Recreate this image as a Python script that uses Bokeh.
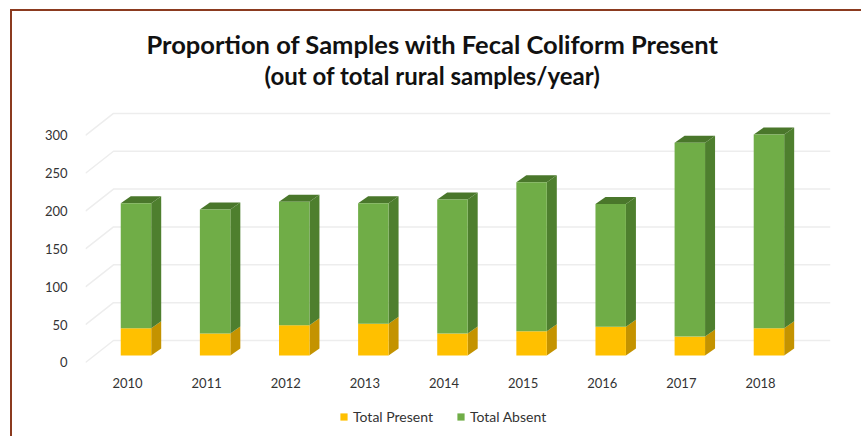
from bokeh.plotting import figure
from bokeh.models import (Range1d, LinearAxis, FixedTicker, Legend, LegendItem, Title,
                          ColumnDataSource, InlineStyleSheet)
from bokeh.embed import file_html
from bokeh.resources import INLINE

# ---- data ----
years = [2010, 2011, 2012, 2013, 2014, 2015, 2016, 2017, 2018]
present = [36, 29, 40, 42, 29, 32, 38, 25, 36]
absent = [165, 164, 163, 159, 177, 197, 162, 256, 256]
yticks = [0, 50, 100, 150, 200, 250, 300]
series_names = ["Total Present", "Total Absent"]
title_lines = ["Proportion of Samples with Fecal Coliform Present",
               "(out of total rural samples/year)"]

# ---- style ----
FONT = "Lato"
C_PRESENT, C_PRESENT_SIDE = "#FFC000", "#C49300"
C_ABSENT, C_ABSENT_SIDE, C_ABSENT_TOP = "#70AD47", "#4E7F2E", "#4A772B"
GRID = "#EDEDED"
PX_X = 79.125   # px per year
PX_Y = 0.757    # px per unit
BAR_SHIFT = 0.107
BAR_W = 0.385
DX = 10 / PX_X
DY = 7 / PX_Y
WALL_DX = 28 / PX_X
WALL_DY = 22 / PX_Y
X_AXIS_AT = -38 / PX_Y   # where the category labels sit (below the floor)

p = figure(width=851, height=427, output_backend="svg", toolbar_location=None,
           x_range=Range1d(2009.469, 2018.885), y_range=Range1d(-109.6, 323.6),
           x_axis_location=None, y_axis_location=None,
           min_border_left=73, min_border_right=33,
           min_border_top=99, min_border_bottom=0)
p.extra_y_ranges = {"axis": Range1d(-100.4, 332.9)}
p.outline_line_color = None
p.grid.visible = False
p.background_fill_color = "white"
p.border_fill_color = "white"
p.stylesheets = [InlineStyleSheet(css=":host { margin-left: 10px; margin-top: 9px; "
                                      "border-left: 2px solid #8B3A1F; border-top: 2px solid #8B3A1F; }")]

# category axis drawn at a fixed place under the bars
xax = LinearAxis(ticker=FixedTicker(ticks=years), fixed_location=X_AXIS_AT)
xax.axis_line_color = None
xax.major_tick_line_color = None
xax.minor_tick_line_color = None
xax.major_label_standoff = 0
xax.major_label_text_font = FONT
xax.major_label_text_font_size = "13px"
xax.major_label_text_color = "#333333"
p.add_layout(xax, "above")

# blank spacer between the plot area and the titles
p.add_layout(Title(text=" ", text_font_size="1px", standoff=18), "above")

# titles (added inner first)
p.add_layout(Title(text=title_lines[1], text_font=FONT, text_font_style="bold",
                   text_font_size="24px", text_color="#111111", align="left",
                   offset=179, standoff=0), "above")
p.add_layout(Title(text=title_lines[0], text_font=FONT, text_font_style="bold",
                   text_font_size="25.5px", text_color="#111111", align="left",
                   offset=61, standoff=0), "above")

# y axis on the wall-front scale
yax = LinearAxis(y_range_name="axis", ticker=FixedTicker(ticks=yticks))
yax.axis_line_color = None
yax.major_tick_line_color = None
yax.minor_tick_line_color = None
yax.major_label_standoff = 12
yax.major_label_text_font = FONT
yax.major_label_text_font_size = "13px"
yax.major_label_text_color = "#333333"
p.add_layout(yax, "left")

# gridlines: floor diagonal + back wall horizontal
x0 = p.x_range.start
x1 = p.x_range.end
gxs = [[x0, x0 + WALL_DX, x1] for v in yticks]
gys = [[v, v + WALL_DY, v + WALL_DY] for v in yticks]
p.multi_line(gxs, gys, line_color=GRID, line_width=1.5, y_range_name="axis")

# bars with faux depth
totals = [a + b for a, b in zip(present, absent)]
xc = [y + BAR_SHIFT for y in years]
xr = [x + BAR_W / 2 for x in xc]
xl = [x - BAR_W / 2 for x in xc]

p.patches([[r, r + DX, r + DX, r] for r in xr],
          [[0, DY, t + DY, t] for t in present],
          fill_color=C_PRESENT_SIDE, line_color=None)
p.patches([[r, r + DX, r + DX, r] for r in xr],
          [[b, b + DY, t + DY, t] for b, t in zip(present, totals)],
          fill_color=C_ABSENT_SIDE, line_color=None)
p.patches([[l, l + DX, r + DX, r] for l, r in zip(xl, xr)],
          [[t, t + DY, t + DY, t] for t in totals],
          fill_color=C_ABSENT_TOP, line_color=None)

src = ColumnDataSource(dict(x=xc, present=present, totals=totals, zero=[0] * len(years)))
r1 = p.vbar(x="x", width=BAR_W, bottom="zero", top="present", source=src,
            fill_color=C_PRESENT, line_color=None)
r2 = p.vbar(x="x", width=BAR_W, bottom="present", top="totals", source=src,
            fill_color=C_ABSENT, line_color=None)

legend = Legend(items=[LegendItem(label=series_names[0], renderers=[r1]),
                       LegendItem(label=series_names[1], renderers=[r2])],
                orientation="horizontal", location=(254, 13),
                label_text_font=FONT, label_text_font_size="14px",
                label_text_color="#333333", glyph_width=9, glyph_height=9,
                border_line_color=None, background_fill_alpha=0,
                spacing=23, padding=4, margin=0, label_standoff=5)
p.add_layout(legend, "center")

open("out.html", "w").write(file_html(p, INLINE))
